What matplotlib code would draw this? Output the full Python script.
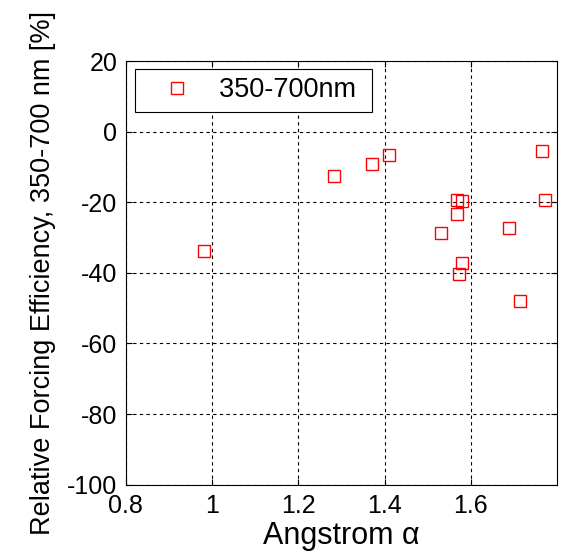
import matplotlib
matplotlib.use("Agg")
import matplotlib.pyplot as plt

# values
alpha = [1.283, 1.372, 1.411, 1.766, 1.772, 1.568, 1.580, 1.569,
         1.531, 1.688, 0.981, 1.580, 1.573, 1.714]
efficiency = [-12.4, -9.2, -6.5, -5.3, -19.2, -19.2, -19.6, -23.4,
              -28.7, -27.2, -33.9, -37.1, -40.3, -47.9]

plt.rcParams["font.family"] = ["Liberation Sans", "DejaVu Sans"]
plt.rcParams["axes.unicode_minus"] = False

fig = plt.figure(figsize=(5.65, 5.57), dpi=100)
ax = fig.add_axes([0.2225, 0.130, 0.7635, 0.760])

ax.plot(alpha, efficiency, ls="none", marker="s", ms=8.5, mfc="none",
        mec="red", mew=1.0, label="350-700nm ")

ax.set_xlim(0.8, 1.8)
ax.set_ylim(-100, 20)
ax.set_xticks([0.8, 1.0, 1.2, 1.4, 1.6])
ax.set_xticklabels(["0.8", "1", "1.2", "1.4", "1.6"])
ax.set_yticks([-100, -80, -60, -40, -20, 0, 20])
ax.tick_params(direction="in", labelsize=18, length=4, top=True, right=True)
ax.tick_params(axis="x", pad=7)
ax.tick_params(axis="y", pad=6)
ax.grid(True, color="black", ls=(0, (3, 3)), lw=0.8)
for s in ax.spines.values():
    s.set_linewidth(0.8)

ax.set_xlabel("Angstrom α", fontsize=22, labelpad=2)
ax.set_ylabel("Relative Forcing Efficiency, 350-700 nm [%]", fontsize=19.5, labelpad=8)

leg = ax.legend(loc="upper left", fontsize=19.5, fancybox=False, framealpha=1,
                edgecolor="black", borderpad=0.3, borderaxespad=0,
                handletextpad=0.3, handlelength=2.5,
                bbox_to_anchor=(0.0215, 0.981))
leg.get_frame().set_linewidth(0.8)

fig.savefig("out.png", dpi=100)
